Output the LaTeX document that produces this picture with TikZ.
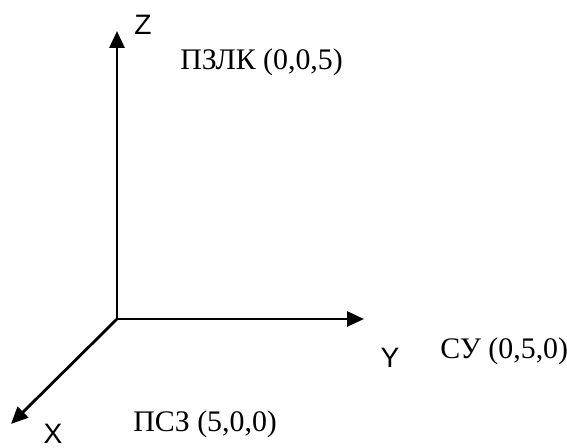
\documentclass[tikz,border=0pt]{standalone}
\usepackage{fontspec}
\setmainfont{Liberation Serif}
\newfontfamily\axisfont{Liberation Sans}
\usetikzlibrary{arrows.meta}
\tikzset{
  axis/.style={-{Triangle[length=0.34cm, width=0.3cm]}, line width=1.6pt},
  axlabel/.style={font=\axisfont\fontsize{16}{18}\selectfont, inner sep=0pt},
  ptlabel/.style={font=\fontsize{17}{20}\selectfont, inner sep=0pt, anchor=west},
}

\begin{document}
\begin{tikzpicture}[x=0.02cm, y=-0.02cm]
\useasboundingbox (0,0) rectangle (567,448);

%% origin and axis ends
\coordinate (O) at (117, 319);
\coordinate (zend) at (117, 31);
\coordinate (yend) at (364, 319);
\coordinate (xend) at (11, 424);

%% axes
\draw[axis] (O) -- (zend);
\draw[axis] (O) -- (yend);
\draw[axis] (O) -- (xend);

%% axis letters
\node[axlabel] (zlab) at (143, 25) {Z};
\node[axlabel] (ylab) at (390, 358) {Y};
\node[axlabel] (xlab) at (53, 434) {X};

%% points
\node[ptlabel] (pzlk) at (180, 62) {ПЗЛК (0,0,5)};
\node[ptlabel] (su)   at (440, 351) {СУ (0,5,0)};
\node[ptlabel] (psz)  at (133, 424) {ПСЗ (5,0,0)};

\end{tikzpicture}
\end{document}
